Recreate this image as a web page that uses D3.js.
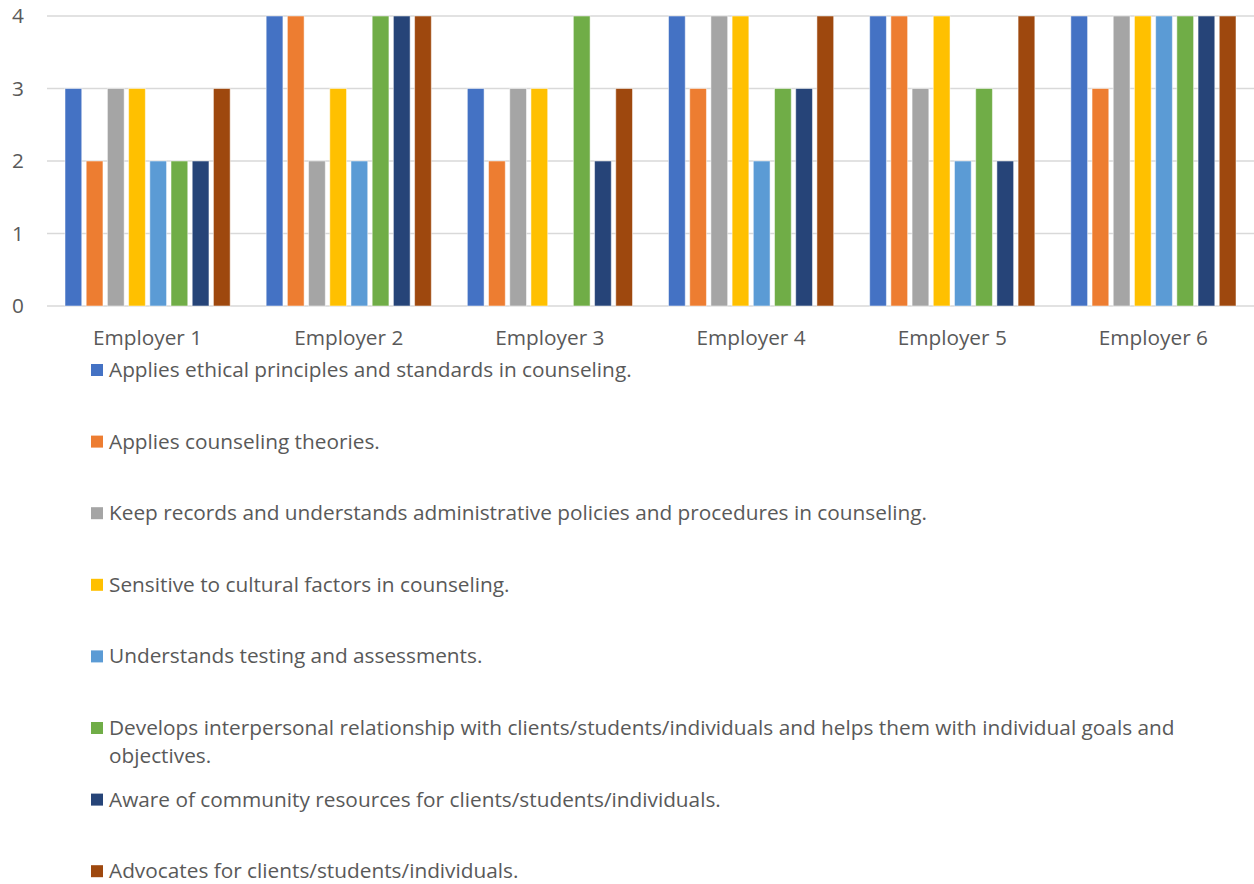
<!DOCTYPE html>
<html>
<head>
<meta charset="utf-8">
<script src="https://cdn.jsdelivr.net/npm/d3@7.9.0/dist/d3.min.js"></script>
<style>
  body { margin: 0; background: #fff; }
  svg { display: block; font-family: "Open Sans", sans-serif; }
</style>
</head>
<body>
<svg id="chart" width="1254" height="884"></svg>
<script>
// categories on the x axis
const employers = ["Employer 1", "Employer 2", "Employer 3", "Employer 4", "Employer 5", "Employer 6"];

// one series per competency
const seriesNames = [
  "Applies ethical principles and standards in counseling.",
  "Applies counseling theories.",
  "Keep records and understands administrative policies and procedures in counseling.",
  "Sensitive to cultural factors in counseling.",
  "Understands testing and assessments.",
  "Develops interpersonal relationship with clients/students/individuals and helps them with individual goals and objectives.",
  "Aware of community resources for clients/students/individuals.",
  "Advocates for clients/students/individuals."
];

const seriesColors = ["#4472C4", "#ED7D31", "#A5A5A5", "#FFC000", "#5B9BD5", "#70AD47", "#264478", "#9E480E"];

// ratings, one array per series (Employer 1..6)
const ethics       = [3, 4, 3, 4, 4, 4];
const theories     = [2, 4, 2, 3, 4, 3];
const records      = [3, 2, 3, 4, 3, 4];
const cultural     = [3, 3, 3, 4, 4, 4];
const testing      = [2, 2, 0, 2, 2, 4];
const relationship = [2, 4, 4, 3, 3, 4];
const community    = [2, 4, 2, 3, 2, 4];
const advocates    = [3, 4, 3, 4, 4, 4];

const yTicks = [0, 1, 2, 3, 4];

const allValues = [ethics, theories, records, cultural, testing, relationship, community, advocates];

const svg = d3.select("#chart");
const textColor = "#595959";
const fontSize = 20.8;

// scales
const y = d3.scaleLinear().domain([0, 4]).range([306, 16]);
const x0 = d3.scaleBand().domain(employers).range([47, 1254]).padding(0);
const x1 = d3.scaleBand()
  .domain(d3.range(seriesNames.length))
  .range([18, x0.bandwidth() - 18])
  .paddingInner(0.21);

// gridlines
svg.append("g")
  .selectAll("line")
  .data(yTicks)
  .join("line")
  .attr("x1", 47)
  .attr("x2", 1254)
  .attr("y1", d => y(d))
  .attr("y2", d => y(d))
  .attr("stroke", "#d9d9d9")
  .attr("stroke-width", 1.3);

// y axis labels
svg.append("g")
  .selectAll("text")
  .data(yTicks)
  .join("text")
  .attr("x", 24)
  .attr("y", d => y(d))
  .attr("dy", "0.35em")
  .attr("text-anchor", "end")
  .attr("fill", textColor)
  .style("font-size", fontSize + "px")
  .text(d => d);

// bars
const groups = svg.append("g")
  .selectAll("g")
  .data(employers)
  .join("g")
  .attr("transform", d => `translate(${x0(d)},0)`);

groups.selectAll("rect")
  .data((d, i) => allValues.map((vals, s) => ({ s, v: vals[i] })))
  .join("rect")
  .attr("x", d => x1(d.s))
  .attr("width", x1.bandwidth())
  .attr("y", d => y(d.v))
  .attr("height", d => y(0) - y(d.v))
  .attr("fill", d => seriesColors[d.s])
  .attr("stroke", "#ffffff")
  .attr("stroke-opacity", 0.5)
  .attr("stroke-width", 1);

// x axis labels
svg.append("g")
  .selectAll("text")
  .data(employers)
  .join("text")
  .attr("x", d => x0(d) + x0.bandwidth() / 2)
  .attr("y", 345)
  .attr("text-anchor", "middle")
  .attr("fill", textColor)
  .style("font-size", fontSize + "px")
  .text(d => d);

// legend (one fixed slot per entry, long labels wrap)
const legendTop = 377;
const legendStep = 71.6;
const textX = 109;
const maxWidth = 1095;

const legend = svg.append("g");
seriesNames.forEach((name, i) => {
  const baseY = legendTop + i * legendStep;
  legend.append("rect")
    .attr("x", 91)
    .attr("y", baseY - 13)
    .attr("width", 12)
    .attr("height", 12)
    .attr("fill", seriesColors[i]);

  const text = legend.append("text")
    .attr("x", textX)
    .attr("y", baseY)
    .attr("fill", textColor)
    .style("font-size", fontSize + "px");

  const words = name.split(" ");
  let line = [];
  let tspan = text.append("tspan").attr("x", textX).attr("y", baseY);
  let lineNo = 0;
  words.forEach(w => {
    line.push(w);
    tspan.text(line.join(" "));
    if (tspan.node().getComputedTextLength() > maxWidth && line.length > 1) {
      line.pop();
      tspan.text(line.join(" "));
      line = [w];
      lineNo++;
      tspan = text.append("tspan")
        .attr("x", textX)
        .attr("y", baseY + lineNo * 28)
        .text(w);
    }
  });
});
</script>
</body>
</html>
